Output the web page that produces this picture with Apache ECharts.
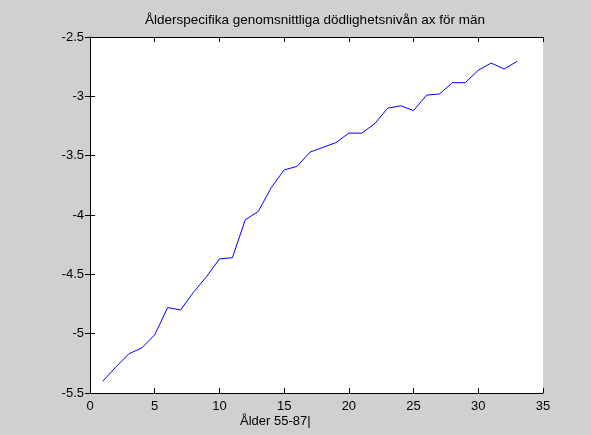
<!DOCTYPE html>
<html>
<head>
<meta charset="utf-8">
<script src="https://cdn.jsdelivr.net/npm/echarts@6/dist/echarts.min.js"></script>
<style>
  html, body { margin: 0; padding: 0; background: #d0d0d0; }
  #chart { width: 591px; height: 435px; }
</style>
</head>
<body>
<div id="chart"></div>
<script>
// Age index (1 = age 55 ... 33 = age 87)
const ageIndex = [1, 2, 3, 4, 5, 6, 7, 8, 9, 10, 11, 12, 13, 14, 15, 16, 17,
                  18, 19, 20, 21, 22, 23, 24, 25, 26, 27, 28, 29, 30, 31, 32, 33];
// Average log mortality level a_x for men
const axMen = [-5.40, -5.28, -5.17, -5.12, -5.01, -4.78, -4.80, -4.65, -4.52, -4.37,
               -4.36, -4.04, -3.97, -3.77, -3.62, -3.59, -3.47, -3.43, -3.39, -3.31,
               -3.31, -3.23, -3.10, -3.08, -3.12, -2.99, -2.98, -2.885, -2.885, -2.78,
               -2.72, -2.77, -2.705];

const chartTitle = 'Ålderspecifika genomsnittliga dödlighetsnivån ax för män';
const xLabel = 'Ålder 55-87|';

const FONT = '"Liberation Sans", Arial, sans-serif';
const chart = echarts.init(document.getElementById('chart'), null, { renderer: 'canvas' });

const seriesData = ageIndex.map((x, i) => [x, axMen[i]]);

const tickStyle = { show: true, inside: true, length: 5, lineStyle: { color: '#000', width: 1 } };
const lineStyle = { show: true, lineStyle: { color: '#000', width: 1 } };

chart.setOption({
  backgroundColor: '#d0d0d0',
  animation: false,
  title: {
    text: chartTitle,
    left: 145,
    top: 13,
    padding: 0,
    textStyle: { fontFamily: FONT, fontSize: 13.5, fontWeight: 'normal', color: '#000' }
  },
  grid: {
    left: 90, right: 48, top: 37, bottom: 42,
    show: true, backgroundColor: '#ffffff', borderWidth: 0
  },
  xAxis: [
    {
      type: 'value', position: 'bottom', min: 0, max: 35, interval: 5,
      axisLine: lineStyle, axisTick: tickStyle, splitLine: { show: false },
      axisLabel: { margin: 7, color: '#000', fontFamily: FONT, fontSize: 13 }
    },
    {
      type: 'value', position: 'top', min: 0, max: 35, interval: 5,
      axisLine: lineStyle, axisTick: tickStyle, splitLine: { show: false },
      axisLabel: { show: false }
    }
  ],
  yAxis: [
    {
      type: 'value', position: 'left', min: -5.5, max: -2.5, interval: 0.5,
      axisLine: lineStyle, axisTick: tickStyle, splitLine: { show: false },
      axisLabel: { margin: 6, color: '#000', fontFamily: FONT, fontSize: 13 }
    },
    {
      type: 'value', position: 'right', min: -5.5, max: -2.5, interval: 0.5,
      axisLine: lineStyle, axisTick: tickStyle, splitLine: { show: false },
      axisLabel: { show: false }
    }
  ],
  graphic: [
    {
      type: 'text', left: 240, top: 415,
      style: { text: xLabel, fill: '#000', font: '13px ' + FONT }
    }
  ],
  series: [
    {
      type: 'line',
      xAxisIndex: 0, yAxisIndex: 0,
      data: seriesData,
      showSymbol: false,
      lineStyle: { color: '#0000ff', width: 1 },
      itemStyle: { color: '#0000ff' }
    }
  ]
});
</script>
</body>
</html>
